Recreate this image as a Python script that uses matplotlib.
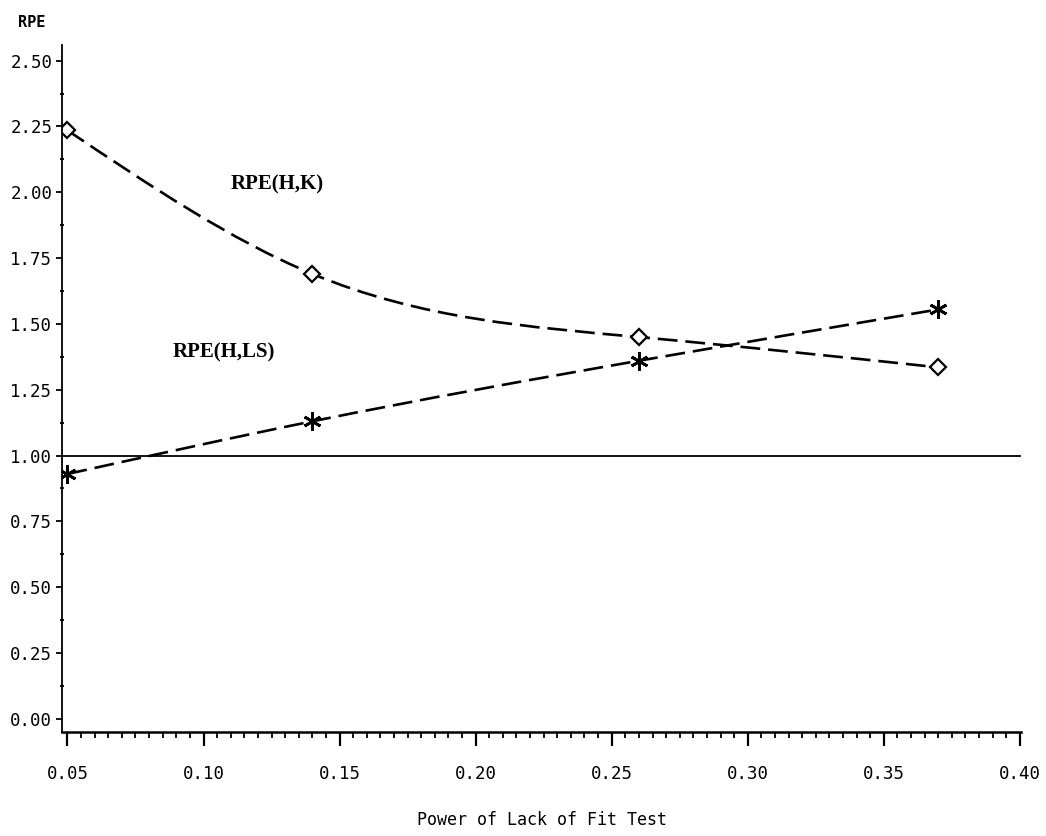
import numpy as np
import matplotlib.pyplot as plt
from matplotlib.path import Path
from matplotlib.patches import PathPatch
from matplotlib.ticker import MultipleLocator, FormatStrFormatter

power = [0.05, 0.14, 0.26, 0.37]
rpe_hk = [2.235, 1.69, 1.45, 1.335]
rpe_hls = [0.93, 1.13, 1.36, 1.555]


def smooth_path(x, y):
    # natural cubic spline through the points, drawn as bezier segments
    x = np.asarray(x, float)
    y = np.asarray(y, float)
    n = len(x)
    h = np.diff(x)
    d = np.diff(y) / h
    A = np.zeros((n, n))
    b = np.zeros(n)
    A[0, 0] = A[-1, -1] = 1
    for i in range(1, n - 1):
        A[i, i - 1] = h[i - 1]
        A[i, i] = 2 * (h[i - 1] + h[i])
        A[i, i + 1] = h[i]
        b[i] = 6 * (d[i] - d[i - 1])
    M = np.linalg.solve(A, b)
    m = np.empty(n)
    m[:-1] = d - h * (2 * M[:-1] + M[1:]) / 6
    m[-1] = d[-1] + h[-1] * (M[-2] + 2 * M[-1]) / 6
    verts = [(x[0], y[0])]
    codes = [Path.MOVETO]
    for i in range(n - 1):
        s = h[i] / 3
        verts += [(x[i] + s, y[i] + m[i] * s),
                  (x[i + 1] - s, y[i + 1] - m[i + 1] * s),
                  (x[i + 1], y[i + 1])]
        codes += [Path.CURVE4] * 3
    return Path(verts, codes)


mono = 'DejaVu Sans Mono'
fig = plt.figure(figsize=(10.46, 8.36), dpi=100)
ax = fig.add_axes([0.0593, 0.1244, 0.917, 0.822])

for ys in (rpe_hk, rpe_hls):
    ax.add_patch(PathPatch(smooth_path(power, ys), fill=False, lw=1.9,
                           ls=(0, (7.5, 3)), color='black'))

ax.plot(power, rpe_hk, ls='none', marker='D', ms=8.5, mfc='white', mec='black', mew=1.6)
ax.plot(power, rpe_hls, ls='none', marker=(6, 2, 0), ms=13, color='black', mew=2)
ax.axhline(1.0, color='black', lw=1.3)

ax.text(0.11, 2.03, 'RPE(H,K)', family='Liberation Serif', weight='bold',
        fontsize=15, va='center')
ax.text(0.0886, 1.39, 'RPE(H,LS)', family='Liberation Serif', weight='bold',
        fontsize=15, va='center')

ax.set_xlim(0.048, 0.4005)
ax.set_ylim(-0.05, 2.56)
ax.spines['top'].set_visible(False)
ax.spines['right'].set_visible(False)
ax.spines['left'].set_linewidth(1.3)
ax.spines['bottom'].set_linewidth(1.8)

ax.xaxis.set_major_locator(MultipleLocator(0.05))
ax.xaxis.set_minor_locator(MultipleLocator(0.005))
ax.yaxis.set_major_locator(MultipleLocator(0.25))
ax.yaxis.set_minor_locator(MultipleLocator(0.125))
ax.xaxis.set_major_formatter(FormatStrFormatter('%.2f'))
ax.yaxis.set_major_formatter(FormatStrFormatter('%.2f'))
ax.tick_params(axis='x', which='major', length=10, width=1.6, pad=14)
ax.tick_params(axis='x', which='minor', length=4.5, width=1.3)
ax.tick_params(axis='y', which='major', length=4, width=1.3, pad=3)
ax.tick_params(axis='y', which='minor', length=2.5, width=1.3, direction='inout')
for lab in ax.get_xticklabels() + ax.get_yticklabels():
    lab.set_family(mono)
    lab.set_fontsize(12.5)

ax.set_xlabel('Power of Lack of Fit Test', family=mono, fontsize=12, labelpad=20)
fig.text(0.017, 0.982, 'RPE', family=mono, fontsize=11, weight='bold', va='top')

fig.savefig('out.png', dpi=100)
